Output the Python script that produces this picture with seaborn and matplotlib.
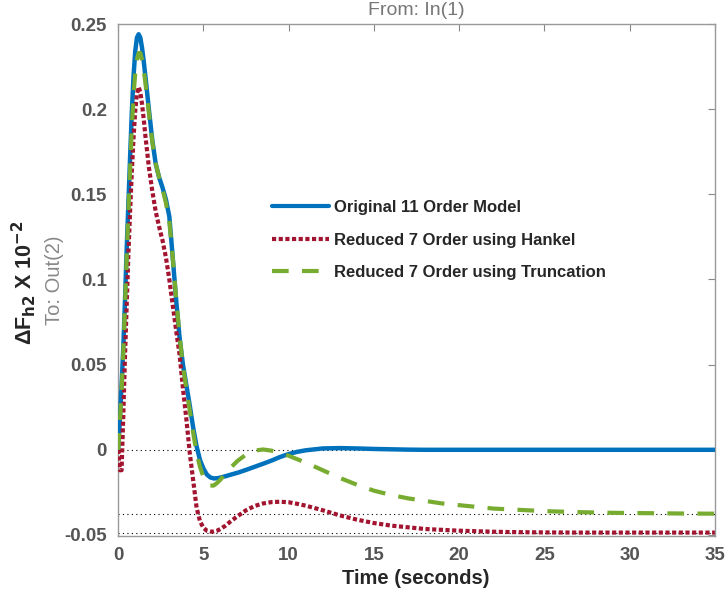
import numpy as np
import pandas as pd
import matplotlib
matplotlib.use("Agg")
import matplotlib.pyplot as plt
import seaborn as sns

t = [0, 0.1, 0.2, 0.3, 0.4, 0.5, 0.6, 0.7, 0.8, 0.9, 1.0, 1.1, 1.2, 1.3, 1.4, 1.5, 1.6,
     1.8, 2.0, 2.2, 2.4, 2.6, 2.8, 3.0, 3.2, 3.4, 3.6, 3.8, 4.0, 4.2, 4.4, 4.6, 4.8,
     5.0, 5.2, 5.4, 5.6, 5.8, 6.0, 6.3, 6.6, 7.0, 7.5, 8.0, 8.5, 9.0, 9.5, 10, 10.5,
     11, 12, 13, 14, 15, 16, 17, 18, 19, 20, 21, 22, 23, 24, 25, 27, 29, 31, 33, 35]

original = [0.0, 0.018, 0.038, 0.060, 0.088, 0.118, 0.145, 0.172, 0.198, 0.219, 0.234,
            0.242, 0.244, 0.242, 0.236, 0.228, 0.219, 0.200, 0.182, 0.168, 0.160, 0.154,
            0.147, 0.137, 0.113, 0.088, 0.066, 0.050, 0.038, 0.026, 0.013, 0.002, -0.006,
            -0.011, -0.0145, -0.0162, -0.0168, -0.0167, -0.0163, -0.0155, -0.0146,
            -0.0135, -0.0118, -0.0100, -0.0082, -0.0063, -0.0042, -0.0025, -0.0012,
            -0.0003, 0.0008, 0.0010, 0.0008, 0.0005, 0.0003, 0.0001, 0.0, 0.0, 0.0, 0.0,
            0.0, 0.0, 0.0, 0.0, 0.0, 0.0, 0.0, 0.0, 0.0]

hankel = [0.0, -0.012, -0.012, 0.020, 0.055, 0.085, 0.115, 0.140, 0.163, 0.183, 0.199,
          0.209, 0.213, 0.210, 0.203, 0.194, 0.184, 0.166, 0.152, 0.140, 0.131, 0.123,
          0.113, 0.100, 0.085, 0.070, 0.056, 0.036, 0.018, -0.002, -0.018, -0.034,
          -0.042, -0.0458, -0.0475, -0.048, -0.048, -0.0475, -0.0465, -0.0445, -0.042,
          -0.0390, -0.0355, -0.0330, -0.0315, -0.0307, -0.0305, -0.0308, -0.0317,
          -0.0328, -0.0355, -0.0385, -0.041, -0.043, -0.0445, -0.0455, -0.0465, -0.047,
          -0.0475, -0.0478, -0.0481, -0.0483, -0.0484, -0.0485, -0.0486, -0.0486,
          -0.0486, -0.0486, -0.0486]

truncation = [0.0, 0.016, 0.035, 0.057, 0.085, 0.113, 0.140, 0.165, 0.189, 0.208, 0.221,
              0.229, 0.233, 0.233, 0.229, 0.223, 0.215, 0.198, 0.181, 0.168, 0.160, 0.153,
              0.145, 0.134, 0.113, 0.089, 0.067, 0.049, 0.036, 0.023, 0.010, -0.002,
              -0.010, -0.016, -0.0195, -0.021, -0.021, -0.0195, -0.0175, -0.014, -0.0105,
              -0.0065, -0.0028, -0.0005, 0.0002, -0.0005, -0.0018, -0.0035, -0.0055,
              -0.0075, -0.012, -0.0165, -0.0205, -0.024, -0.0265, -0.0285, -0.030,
              -0.0315, -0.0325, -0.0335, -0.0345, -0.035, -0.0355, -0.036, -0.0366,
              -0.037, -0.0372, -0.0374, -0.0375]

steady_levels = [0.0, -0.0375, -0.0486]
labels = ["Original 11 Order Model", "Reduced 7 Order using Hankel",
          "Reduced 7 Order using Truncation"]
yticks = [-0.05, 0, 0.05, 0.1, 0.15, 0.2, 0.25]
ytick_labels = ["-0.05", "0", "0.05", "0.1", "0.15", "0.2", "0.25"]
xticks = [0, 5, 10, 15, 20, 25, 30, 35]

df = pd.DataFrame({"t": t, "orig": original, "hank": hankel, "trunc": truncation})

sns.set_style("white")
plt.rcParams["font.family"] = ["Liberation Sans", "DejaVu Sans"]
plt.rcParams["axes.unicode_minus"] = False

fig = plt.figure(figsize=(7.25, 5.96), dpi=100)
ax = fig.add_axes([0.163, 0.1007, 0.823, 0.859])

for lv in steady_levels:
    ax.axhline(lv, color="black", lw=0.8, ls=(0, (1, 3)), zorder=1)

sns.lineplot(data=df, x="t", y="orig", ax=ax, color="#0072BD", lw=3.2,
             label=labels[0], zorder=3)
sns.lineplot(data=df, x="t", y="hank", ax=ax, color="#A2142F", lw=3.0,
             label=labels[1], zorder=4)
sns.lineplot(data=df, x="t", y="trunc", ax=ax, color="#77AC30", lw=3.0,
             label=labels[2], zorder=5)
ax.lines[-2].set_linestyle((0, (1, 0.6)))
ax.lines[-1].set_linestyle((0, (4, 3.2)))

ax.set_xlim(0, 35)
ax.set_ylim(-0.0506, 0.25)
ax.set_xticks(xticks)
ax.set_yticks(yticks)
ax.set_yticklabels(ytick_labels)
ax.set_xlabel("")
ax.set_ylabel("")
ax.tick_params(direction="in", length=5, width=0.8, color="#888888",
               top=True, right=True, labelsize=13.5, labelcolor="#555555", pad=8)
for lab in ax.get_xticklabels() + ax.get_yticklabels():
    lab.set_fontweight("bold")
for s in ax.spines.values():
    s.set_color("#999999")
    s.set_linewidth(1.0)

leg = ax.legend(loc="center left", bbox_to_anchor=(0.258, 0.578), frameon=False,
                prop={"size": 12, "weight": "bold"}, handlelength=3.4,
                handletextpad=0.3, labelspacing=1.05, borderpad=0, borderaxespad=0)
for h in leg.get_lines():
    h.set_linewidth(3.0)

fig.text(0.574, 0.983, "From: In(1)", ha="center", va="center", fontsize=14,
         color="#777777")
fig.text(0.574, 0.03, "Time (seconds)", ha="center", va="center", fontsize=14.5,
         fontweight="bold")
fig.text(0.032, 0.525, r"ΔF$_{\mathbf{h2}}$ X 10$^{\mathbf{-2}}$", rotation=90,
         ha="center", va="center", fontsize=15.5, fontweight="bold")
fig.text(0.075, 0.53, "To: Out(2)", rotation=90, ha="center", va="center",
         fontsize=14.5, color="#888888")

fig.savefig("out.png", dpi=100)
